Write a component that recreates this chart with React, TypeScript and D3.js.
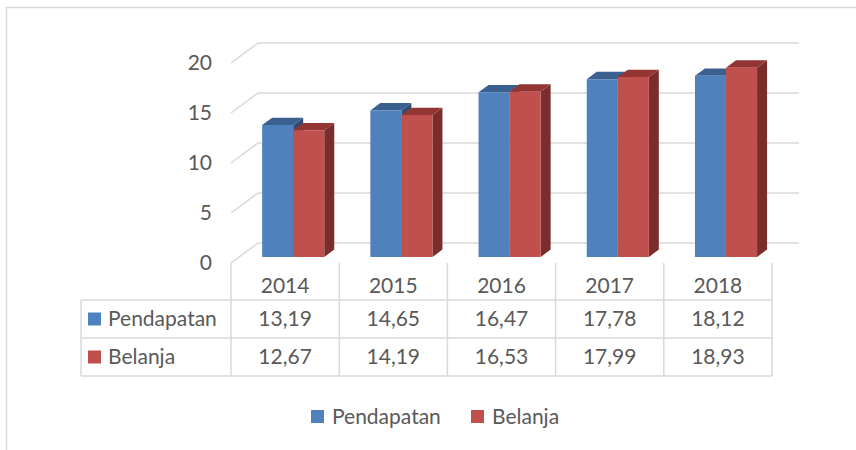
import React from "react";
import * as d3 from "d3";

const years = ["2014", "2015", "2016", "2017", "2018"];
const seriesNames = ["Pendapatan", "Belanja"];
const pendapatan = [13.19, 14.65, 16.47, 17.78, 18.12];
const belanja = [12.67, 14.19, 16.53, 17.99, 18.93];
const tableLabels = [
  ["13,19", "14,65", "16,47", "17,78", "18,12"],
  ["12,67", "14,19", "16,53", "17,99", "18,93"],
];
const yTicks = [0, 5, 10, 15, 20];

const W = 856;
const H = 450;
const FONT = "Lato, 'Open Sans', sans-serif";
const FS = 21;
const TEXT = "#595959";
const GRID = "#D9D9D9";

const colors = {
  Pendapatan: { front: "#4F81BD", top: "#3A6090", side: "#2F4E75" },
  Belanja: { front: "#C0504D", top: "#933533", side: "#7A2E2C" },
};

// depth vector of the floor (screen offset from front to back plane)
const DX = 27;
const DY = -20;
const D0 = 0.3; // bar front depth
const D1 = 0.67; // bar back depth

export default function App() {
  const y = d3.scaleLinear().domain([0, 20]).range([263, 63]);
  const x = d3.scaleBand<string>().domain(years).range([231, 772]).padding(0);
  const bw = x.bandwidth();
  const gap = bw * 0.213;
  const xs = d3.scaleBand<string>().domain(seriesNames).range([gap, bw - gap]).padding(0);
  const sw = xs.bandwidth();
  const data: Record<string, number[]> = { Pendapatan: pendapatan, Belanja: belanja };

  const P = (px: number, py: number, d: number) => [px + DX * d, py + DY * d];
  const poly = (pts: number[][]) => pts.map((p) => p.join(",")).join(" ");

  const xLeft = 231;
  const xRight = 772;
  const tableLeft = 81;
  const rowLines = [300, 338, 376];

  return (
    <svg
      width={W}
      height={H}
      style={{ position: "absolute", left: 0, top: 0, background: "#fff" }}
      fontFamily={FONT}
    >
      {/* outer chart border */}
      <path d={`M6.5,${H} L6.5,7.5 L${W},7.5`} fill="none" stroke={GRID} strokeWidth={1.5} />

      {/* back wall gridlines + side wall diagonals */}
      {yTicks.map((t) => {
        const f = y(t);
        const [bx, by] = P(xLeft, f, 1);
        const [ex] = P(xRight, f, 1);
        return (
          <g key={t}>
            <line x1={xLeft} y1={f} x2={bx} y2={by} stroke={GRID} strokeWidth={1.5} />
            <line x1={bx} y1={by} x2={ex} y2={by} stroke={GRID} strokeWidth={1.5} />
            <text x={212} y={f} dy="0.35em" textAnchor="end" fontSize={FS} fill={TEXT}>
              {t}
            </text>
          </g>
        );
      })}

      {/* bars */}
      {years.map((yr, i) => (
        <g key={yr}>
          {seriesNames.map((s) => {
            const v = data[s][i];
            const c = (colors as any)[s];
            const x0 = (x(yr) as number) + (xs(s) as number);
            const x1 = x0 + sw;
            const yb = y(0);
            const yt = y(v);
            const fbl = P(x0, yb, D0);
            const fbr = P(x1, yb, D0);
            const ftl = P(x0, yt, D0);
            const ftr = P(x1, yt, D0);
            const btl = P(x0, yt, D1);
            const btr = P(x1, yt, D1);
            const bbr = P(x1, yb, D1);
            return (
              <g key={s}>
                <polygon points={poly([fbr, ftr, btr, bbr])} fill={c.side} />
                <polygon points={poly([ftl, ftr, btr, btl])} fill={c.top} />
                <polygon points={poly([fbl, fbr, ftr, ftl])} fill={c.front} />
              </g>
            );
          })}
        </g>
      ))}

      {/* data table */}
      {years.map((yr, i) => (
        <line
          key={"v" + i}
          x1={x(yr) as number}
          x2={x(yr) as number}
          y1={263}
          y2={376}
          stroke={GRID}
          strokeWidth={1.5}
        />
      ))}
      <line x1={xRight} x2={xRight} y1={263} y2={376} stroke={GRID} strokeWidth={1.5} />
      <line x1={tableLeft} x2={tableLeft} y1={300} y2={376} stroke={GRID} strokeWidth={1.5} />
      {rowLines.map((ry) => (
        <line key={ry} x1={tableLeft} x2={xRight} y1={ry} y2={ry} stroke={GRID} strokeWidth={1.5} />
      ))}
      {years.map((yr) => (
        <text
          key={"h" + yr}
          x={(x(yr) as number) + bw / 2}
          y={286}
          dy="0.35em"
          textAnchor="middle"
          fontSize={FS}
          fill={TEXT}
        >
          {yr}
        </text>
      ))}
      {seriesNames.map((s, r) => {
        const cy = (rowLines[r] + rowLines[r + 1]) / 2;
        return (
          <g key={"row" + s}>
            <rect x={88} y={cy - 6.5} width={13} height={13} fill={(colors as any)[s].front} />
            <text x={108} y={cy} dy="0.35em" fontSize={FS} fill={TEXT}>
              {s}
            </text>
            {tableLabels[r].map((lbl, i) => (
              <text
                key={i}
                x={(x(years[i]) as number) + bw / 2}
                y={cy}
                dy="0.35em"
                textAnchor="middle"
                fontSize={FS}
                fill={TEXT}
              >
                {lbl}
              </text>
            ))}
          </g>
        );
      })}

      {/* legend */}
      {seriesNames.map((s, i) => {
        const lx = [311, 471][i];
        return (
          <g key={"lg" + s}>
            <rect x={lx} y={410} width={13} height={13} fill={(colors as any)[s].front} />
            <text x={lx + 21} y={416.5} dy="0.35em" fontSize={FS} fill={TEXT}>
              {s}
            </text>
          </g>
        );
      })}
    </svg>
  );
}
